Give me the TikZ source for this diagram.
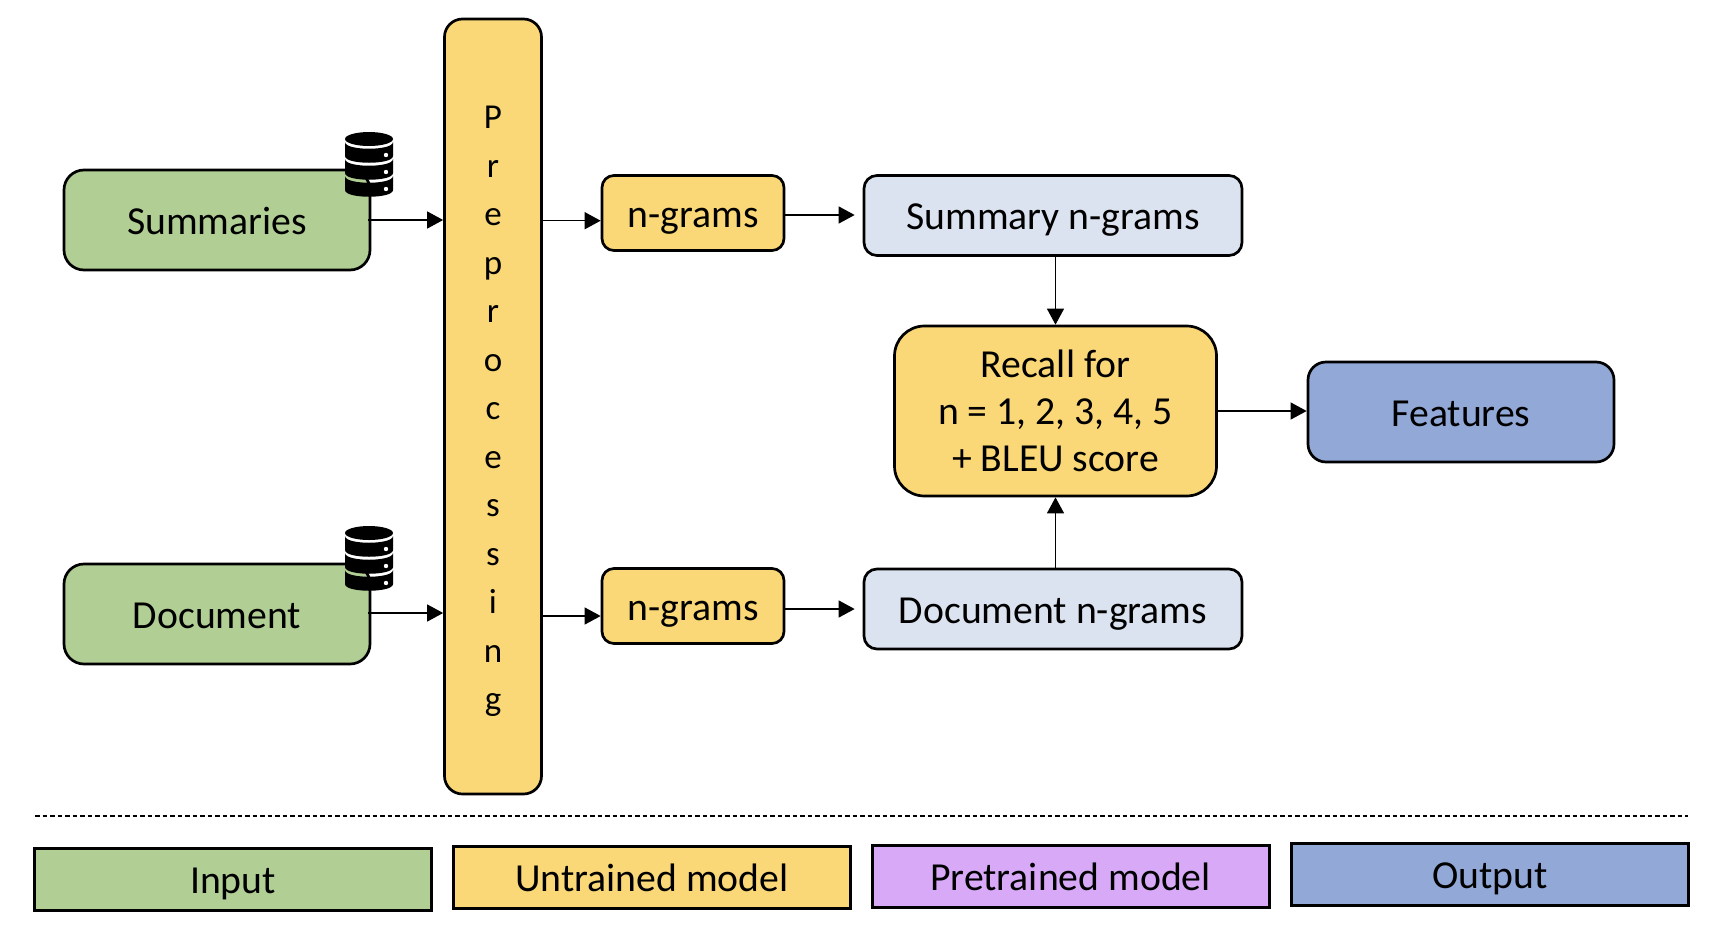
\documentclass[tikz,border=0pt]{standalone}
\usepackage{fontspec}
\setmainfont{Carlito}
\usetikzlibrary{arrows.meta,calc}
\definecolor{cgreen}{HTML}{B1CF95}
\definecolor{cyellow}{HTML}{FAD877}
\definecolor{cpurple}{HTML}{D7A9F7}
\definecolor{cblue}{HTML}{92A9D8}
\definecolor{clight}{HTML}{DCE3F0}
\tikzset{
  box/.style={draw=black,line width=2.7pt,inner sep=0pt,align=center,font=\fontsize{39.7}{47}\selectfont},
  oneline/.style={box,text height=38pt,text depth=10pt},
  legendbox/.style={oneline,rounded corners=0pt,line width=3pt},
  conn/.style={line width=1.3pt,-{Triangle[length=16pt,width=17pt]}}
}
\newcommand{\dbicon}[2]{%
  \begin{scope}[shift={(#1,#2)}]
    \fill[black] (369,139) ellipse [x radius=24,y radius=7];
    \foreach \ya/\yb in {142/156,159/173,176/190}{
      \fill[black] (345,\ya) .. controls (345,\ya+9) and (393,\ya+9) .. (393,\ya)
        -- (393,\yb) .. controls (393,\yb+9) and (345,\yb+9) .. (345,\yb) -- cycle;
      \fill[white] (386,\yb-1) circle [radius=2.2];
    }
  \end{scope}}
\begin{document}
\begin{tikzpicture}[x=1pt,y=-1pt]
\useasboundingbox (0,0) rectangle (1722,940);
% main boxes
\node[oneline,fill=cgreen,rounded corners=20pt,minimum width=306pt,minimum height=100pt] (sum) at (217,220) {Summaries};
\node[oneline,fill=cgreen,rounded corners=20pt,minimum width=306pt,minimum height=100pt] (doc) at (217,614) {Document};
\node[box,fill=cyellow,rounded corners=18pt,minimum width=97pt,minimum height=775pt] (prep) at (493,406.5) {};
\node[align=center,inner sep=0pt,font=\fontsize{35}{48.5}\selectfont] (preptext) at (493,411.5) {P\\r\\e\\p\\r\\o\\c\\e\\s\\s\\i\\n\\g};
\node[oneline,fill=cyellow,rounded corners=12pt,minimum width=182pt,minimum height=75pt] (ng1) at (693,213) {n-grams};
\node[oneline,fill=cyellow,rounded corners=12pt,minimum width=182pt,minimum height=75pt] (ng2) at (693,606) {n-grams};
\node[oneline,fill=clight,rounded corners=13pt,minimum width=378pt,minimum height=80pt] (sng) at (1053,215.5) {Summary n-grams};
\node[oneline,fill=clight,rounded corners=13pt,minimum width=378pt,minimum height=80pt] (dng) at (1053,609) {Document n-grams};
\node[box,fill=cyellow,rounded corners=30pt,minimum width=322pt,minimum height=170pt] (rec) at (1055.5,411) {Recall for\\n = 1, 2, 3, 4, 5\\+ BLEU score};
\node[oneline,fill=cblue,rounded corners=18pt,minimum width=306pt,minimum height=100pt] (fea) at (1461,412) {Features};
% icons
\dbicon{0}{0}
\dbicon{0}{394}
% connectors
\coordinate (i1) at (sum.east);
\coordinate (i2) at ($(doc.east)+(0,-1)$);
\draw[conn,shorten <=-3pt] (i1) -- (i1 -| prep.west);
\draw[conn,shorten <=-3pt] (i2) -- (i2 -| prep.west);
\coordinate (o1) at ($(prep.east)+(0,-185.8)$);
\coordinate (o2) at ($(prep.east)+(0,209.5)$);
\draw[conn] (o1) -- (o1 -| ng1.west);
\draw[conn] (o2) -- (o2 -| ng2.west);
\coordinate (p1) at ($(ng1.east)+(0,2)$);
\coordinate (p2) at ($(ng2.east)+(0,3)$);
\draw[conn,shorten >=8pt] (p1) -- (p1 -| sng.west);
\draw[conn,shorten >=8pt] (p2) -- (p2 -| dng.west);
\draw[conn] (sng.south -| rec.north) -- (rec.north);
\draw[conn] (dng.north -| rec.south) -- (rec.south);
\draw[conn] (rec.east) -- (rec.east -| fea.west);
% separator
\coordinate (d1) at (35,816);
\coordinate (d2) at (1688,816);
\draw[line width=1.2pt,dash pattern=on 4.5pt off 3pt] (d1) -- (d2);
% legend
\node[legendbox,fill=cgreen,minimum width=397pt,minimum height=62pt] (l1) at (233,879.5) {Input};
\node[legendbox,fill=cyellow,minimum width=397pt,minimum height=62pt] (l2) at (652,877) {Untrained model};
\node[legendbox,fill=cpurple,minimum width=397pt,minimum height=62pt] (l3) at (1070.5,876) {Pretrained model};
\node[legendbox,fill=cblue,minimum width=397pt,minimum height=62pt] (l4) at (1490,874.5) {Output};
\end{tikzpicture}
\end{document}
